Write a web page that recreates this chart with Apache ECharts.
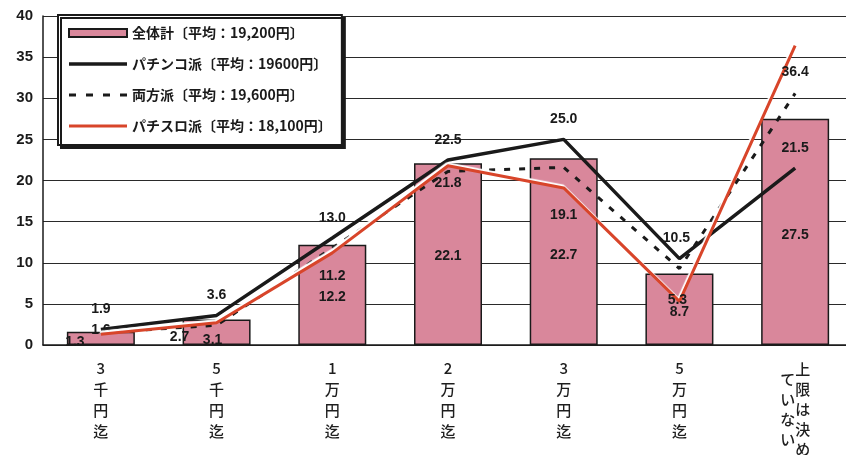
<!DOCTYPE html>
<html>
<head>
<meta charset="utf-8">
<script src="https://cdn.jsdelivr.net/npm/echarts@6/dist/echarts.min.js"></script>
<style>
  html, body { margin: 0; padding: 0; background: #ffffff; }
  #chart { width: 846px; height: 455px; }
</style>
</head>
<body>
<div id="chart"></div>
<script>
// Spending cap per visit (%), by player type
const categories = ['3千円迄', '5千円迄', '1万円迄', '2万円迄', '3万円迄', '5万円迄', '上限は決めていない'];
const totalShare    = [1.6, 3.1, 12.2, 22.1, 22.7, 8.7, 27.5];   // 全体計 (bars)
const pachinkoShare = [1.9, 3.6, 13.0, 22.5, 25.0, 10.5, 21.5];  // パチンコ派
const bothShare     = [1.5, 2.4, 11.8, 21.1, 21.6, 9.3, 30.6];   // 両方派 (unlabelled)
const pachisloShare = [1.3, 2.7, 11.2, 21.8, 19.1, 5.3, 36.4];   // パチスロ派
const seriesNames = [
  '全体計〔平均：19,200円〕',
  'パチンコ派〔平均：19600円〕',
  '両方派〔平均：19,600円〕',
  'パチスロ派〔平均：18,100円〕'
];
const yMin = 0, yMax = 40, yStep = 5;

// small label nudges [dx, dy] so value labels sit clear of the lines
const barLabelNudge = [[0, -8], [-4, 8], [0, 2], [0, 2], [0, 3], [0, 3], [0, 3]];
const sloLabelNudge = [[-26, -7], [-37, -1], [0, 8], [0, 2], [0, 12], [-2, -16], [0, 12]];
const pachinkoLabelNudge = [[0, 0], [0, 0], [0, 0], [0, 0], [0, 0], [-3, 0], [0, 0]];

const labelFont = {
  fontFamily: 'Liberation Sans, Arial, sans-serif', fontWeight: 'bold', fontSize: 14, color: '#1a1a1a',
  formatter: p => Number(p.value).toFixed(1)
};

function withNudge(values, nudges) {
  return values.map((v, i) => ({ value: v, label: { offset: nudges[i] } }));
}

// invisible point series that carries the value labels of a line
function labelCarrier(values, nudges, position, distance) {
  return {
    type: 'scatter',
    data: withNudge(values, nudges),
    symbolSize: 0,
    itemStyle: { color: 'transparent', opacity: 1 },
    label: Object.assign({ show: true, position: position, distance: distance }, labelFont),
    silent: true,
    z: 6
  };
}

// vertical (tategaki) axis labels; long labels wrap into two columns, right to left
function verticalLabel(text) {
  const chars = Array.from(text);
  if (chars.length <= 4) return chars.join('\n');
  const right = chars.slice(0, 5), left = chars.slice(5);
  const lines = [];
  for (let i = 0; i < right.length + left.length; i++) {
    if (i % 2 === 0) lines.push('\u3000' + right[i / 2]);
    else lines.push((left[(i - 1) / 2] || '\u3000') + '\u3000');
  }
  return '{g|\u3000}\n{w|' + lines.join('\n') + '}';
}

const chart = echarts.init(document.getElementById('chart'), null, { renderer: 'canvas' });
chart.setOption({
  animation: false,
  backgroundColor: '#ffffff',
  grid: { left: 43, top: 16, bottom: 110, width: 810, containLabel: false, outerBoundsMode: 'none' },
  legend: {
    orient: 'vertical',
    left: 58,
    top: 15,
    padding: [8, 10, 9, 10],
    itemGap: 11,
    itemWidth: 58,
    itemHeight: 8,
    symbolKeepAspect: true,
    backgroundColor: '#ffffff',
    borderColor: '#1a1a1a',
    borderWidth: 2,
    shadowColor: '#1a1a1a',
    shadowBlur: 0,
    shadowOffsetX: 3,
    shadowOffsetY: 3,
    textStyle: { fontFamily: 'Noto Sans CJK JP', fontWeight: 'bold', fontSize: 14, lineHeight: 20, color: '#1a1a1a' },
    data: [
      { name: seriesNames[0], icon: 'rect' },
      { name: seriesNames[1], icon: 'path://M0,0H58V3.5H0Z' },
      { name: seriesNames[2], icon: 'path://M0,0h7v3h-7zM17,0h7v3h-7zM34,0h7v3h-7zM51,0h7v3h-7z' },
      { name: seriesNames[3], icon: 'path://M0,0H58V3H0Z' }
    ]
  },
  xAxis: {
    type: 'category',
    data: categories,
    boundaryGap: true,
    axisLine: { lineStyle: { color: '#1a1a1a', width: 1.5 } },
    axisTick: { show: false },
    axisLabel: {
      interval: 0,
      margin: 13,
      fontFamily: 'Noto Sans CJK JP',
      fontWeight: 500,
      fontSize: 15,
      lineHeight: 21,
      color: '#1e1e1e',
      formatter: verticalLabel,
      rich: {
        g: { fontSize: 15, lineHeight: 6, fontFamily: 'Noto Sans CJK JP' },
        w: { fontSize: 15, lineHeight: 10, color: '#1e1e1e', fontWeight: 500, fontFamily: 'Noto Sans CJK JP' }
      }
    }
  },
  yAxis: {
    type: 'value',
    min: yMin,
    max: yMax,
    interval: yStep,
    axisLine: { show: true, lineStyle: { color: '#1a1a1a', width: 1.5 } },
    axisTick: { show: false },
    axisLabel: { margin: 10, fontFamily: 'Liberation Sans, Arial, sans-serif', fontWeight: 'bold', fontSize: 15, color: '#1a1a1a' },
    splitLine: { lineStyle: { color: '#2a2a2a', width: 1.2 } }
  },
  series: [
    {
      name: seriesNames[0],
      type: 'bar',
      barWidth: 68,
      data: withNudge(totalShare, barLabelNudge),
      itemStyle: { color: '#d9879b', borderColor: '#1a1a1a', borderWidth: 1.5 },
      label: Object.assign({ show: true, position: 'inside' }, labelFont),
      z: 2
    },
    {
      name: seriesNames[1],
      type: 'line',
      data: pachinkoShare,
      symbol: 'none',
      lineStyle: { color: '#1a1a1a', width: 3.5 },
      itemStyle: { color: '#1a1a1a' },
      z: 4
    },
    {
      name: seriesNames[2],
      type: 'line',
      data: bothShare,
      symbol: 'none',
      lineStyle: { color: '#1a1a1a', width: 3, type: [6, 9] },
      itemStyle: { color: '#1a1a1a' },
      z: 3
    },
    {
      name: seriesNames[3],
      type: 'line',
      data: pachisloShare,
      symbol: 'none',
      lineStyle: { color: '#d8452a', width: 3, shadowColor: '#ffffff', shadowBlur: 1, shadowOffsetX: -1, shadowOffsetY: -2 },
      itemStyle: { color: '#d8452a' },
      z: 5
    },
    labelCarrier(pachinkoShare, pachinkoLabelNudge, 'top', 13),
    labelCarrier(pachisloShare, sloLabelNudge, 'bottom', 8)
  ]
});
</script>
</body>
</html>
